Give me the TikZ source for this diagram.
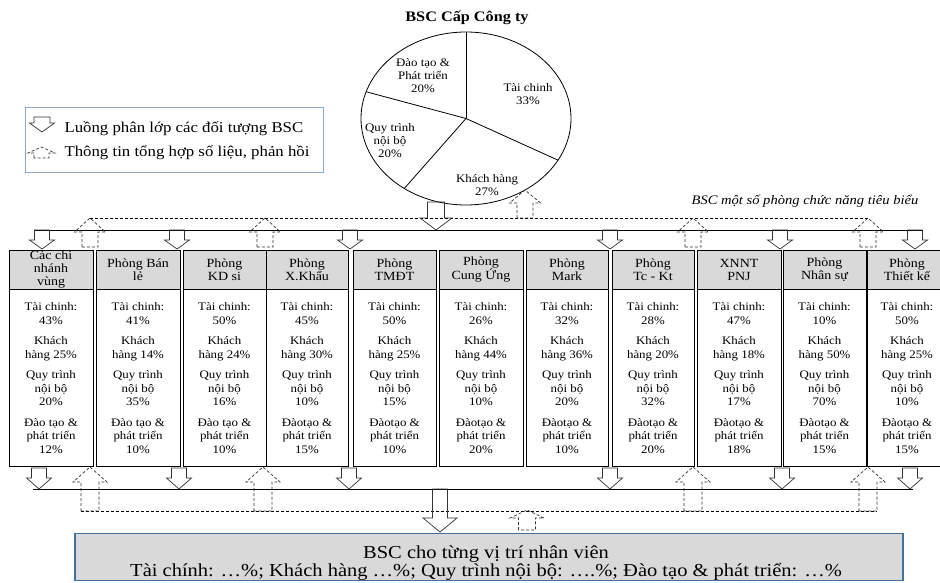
\documentclass[tikz,border=0pt]{standalone}
\usepackage{fontspec}
\setmainfont{Liberation Serif}[FakeStretch=1.12]
\usetikzlibrary{positioning}
\definecolor{hdrgray}{RGB}{217,217,217}
\definecolor{legendblue}{RGB}{143,170,200}
\definecolor{staffblue}{RGB}{65,113,156}
\newcommand{\cellfont}{\fontsize{11.5}{13.5}\selectfont}
\newcommand{\piefont}{\fontsize{11.5}{13}\selectfont}
\newcommand{\headfont}{\fontsize{12.5}{13}\selectfont}
\newcommand{\legfont}{\fontsize{15}{16}\selectfont}
\newcommand{\stafffont}{\fontsize{18.3}{18}\selectfont}
% block arrow: [style]{x}{tail y}{head base y}{tip y}{half shaft}{half head}
\newcommand{\flowarrow}[7][]{\draw[#1] (#2-#6,#3) -- (#2-#6,#4) -- (#2-#7,#4) -- (#2,#5) -- (#2+#7,#4) -- (#2+#6,#4) -- (#2+#6,#3) -- cycle;}
\tikzset{
  flow/.style={draw=black!80,line width=0.7pt},
  feedback/.style={draw=black!80,line width=0.7pt,dash pattern=on 3pt off 2pt},
  hdrbox/.style={draw,line width=0.9pt,fill=hdrgray,minimum height=39pt,inner xsep=1pt,inner ysep=0pt,align=center,font=\headfont},
  bodybox/.style={draw,line width=0.9pt,fill=white,minimum height=177pt,inner sep=1pt,align=center,font=\cellfont},
  bus/.style={draw,line width=0.7pt},
  busdash/.style={draw,line width=0.7pt,dash pattern=on 3pt off 2pt},
}
\begin{document}
\begin{tikzpicture}[x=1pt,y=-1pt]
\useasboundingbox (0,0) rectangle (940,583);

% company level pie
\node[font=\fontsize{14.5}{16}\selectfont\bfseries] (title) at (467,18) {BSC Cấp Công ty};
\coordinate (pie) at (466,118.5);
\draw[line width=0.8pt] (pie) ellipse [x radius=105pt,y radius=86.5pt];
\foreach \a in {90,-28.8,-126,162}
  \draw[line width=0.8pt] (pie) -- ++({105*cos(\a)},{-86.5*sin(\a)});
\node[font=\piefont,align=center] (pTC) at (528,94) {Tài chinh\\33\%};
\node[font=\piefont,align=center] (pKH) at (487,185) {Khách hàng\\27\%};
\node[font=\piefont,align=center] (pQT) at (390,141) {Quy trình\\nội bộ\\20\%};
\node[font=\piefont,align=center] (pDT) at (423,76) {Đào tạo \&\\Phát triển\\20\%};

% legend
\node[draw=legendblue,line width=0.8pt,minimum width=298pt,minimum height=65pt] (legend) at (174,139.5) {};
\flowarrow[flow]{42}{117}{123}{132}{8}{12.5}
\flowarrow[feedback]{41.5}{158}{153}{147}{7.5}{13.5}
\node[font=\legfont,anchor=west] (legA) at (61,129) {Luồng phân lớp các đối tượng BSC};
\node[font=\legfont,anchor=west] (legB) at (61,153) {Thông tin tổng hợp số liệu, phản hồi};

\node[font=\fontsize{13}{15}\selectfont\itshape] (deptlabel) at (805,201) {BSC một số phòng chức năng tiêu biểu};

% departments
\foreach \i/\cx/\w/\hd/\dt/\pa/\pb/\pc/\pd in {
  1/51/84/{Các chi\\nhánh\\vùng}/{Đào tạo}/43/25/20/12,
  2/138/84/{Phòng Bán\\lẻ}/{Đào tạo}/41/14/35/10,
  3/224.5/83/{Phòng\\KD si}/{Đào tạo}/50/24/16/10,
  4/307/82/{Phòng\\X.Khẩu}/{Đàotạo}/45/30/10/15,
  5/394.5/83/{Phòng\\TMĐT}/{Đàotạo}/50/25/15/10,
  6/481/84/{Phòng\\Cung Ứng}/{Đàotạo}/26/44/10/20,
  7/567/82/{Phòng\\Mark}/{Đàotạo}/32/36/20/10,
  8/653/82/{Phòng\\Tc - Kt}/{Đàotạo}/28/20/32/20,
  9/739/84/{XNNT\\PNJ}/{Đàotạo}/47/18/17/18,
  10/824.5/83/{Phòng\\Nhân sự}/{Đàotạo}/10/50/70/15,
  11/907/80/{Phòng\\Thiết kế}/{Đàotạo}/50/25/10/15}{
  \node[hdrbox,minimum width=\w*1pt] (h\i) at (\cx,269.5) {\hd};
  \node[bodybox,minimum width=\w*1pt,anchor=north] (b\i) at (\cx,289)
    {Tài chinh:\\\pa\%\\[7pt]Khách\\hàng \pb\%\\[7pt]Quy trình\\nội bộ\\\pc\%\\[7pt]\dt{} \&\\phát triển\\\pd\%};
}

% upper buses
\coordinate (topL) at (34,230);
\coordinate (topR) at (922,230);
\coordinate (fbL) at (90,218);
\coordinate (fbR) at (868,218);
\draw[bus] (topL) -- (topR);
\draw[busdash] (fbL) -- (fbR);
\flowarrow[flow]{436}{202}{218}{230}{8.5}{16}
\flowarrow[feedback]{525}{218}{203}{190}{8}{15.5}
\foreach \x in {42,177,350,610,780,915}
  {\flowarrow[flow]{\x}{230}{240}{249}{7.5}{12.5}}
\foreach \x in {90,265,693,868}
  {\flowarrow[feedback]{\x}{247}{232}{218}{8}{15.5}}

% lower buses
\coordinate (botL) at (33,489);
\coordinate (botR) at (913,489);
\coordinate (fbbL) at (81,511);
\coordinate (fbbR) at (877,511);
\draw[bus] (botL) -- (botR);
\draw[busdash] (fbbL) -- (fbbR);
\foreach \x in {39,179,349,610,782,910}
  {\flowarrow[flow]{\x}{468}{478}{489}{7.5}{12.5}}
\foreach \x in {90,263,693,868}
  {\flowarrow[feedback]{\x}{511}{482}{467}{9}{17}}

% staff level
\node[draw=staffblue,line width=1.6pt,fill=hdrgray,minimum width=828pt,minimum height=47pt] (staff) at (489,557) {};
\node[font=\stafffont,align=center] (stafftext) at (486,563)
  {BSC cho từng vị trí nhân viên\\Tài chính: …\%; Khách hàng …\%; Quy trình nội bộ: ….\%; Đào tạo \& phát triển: …\%};
\flowarrow[flow]{440}{489}{518}{532}{7.5}{17}
\flowarrow[feedback]{527}{530}{518}{510}{8.5}{17}
\end{tikzpicture}
\end{document}
